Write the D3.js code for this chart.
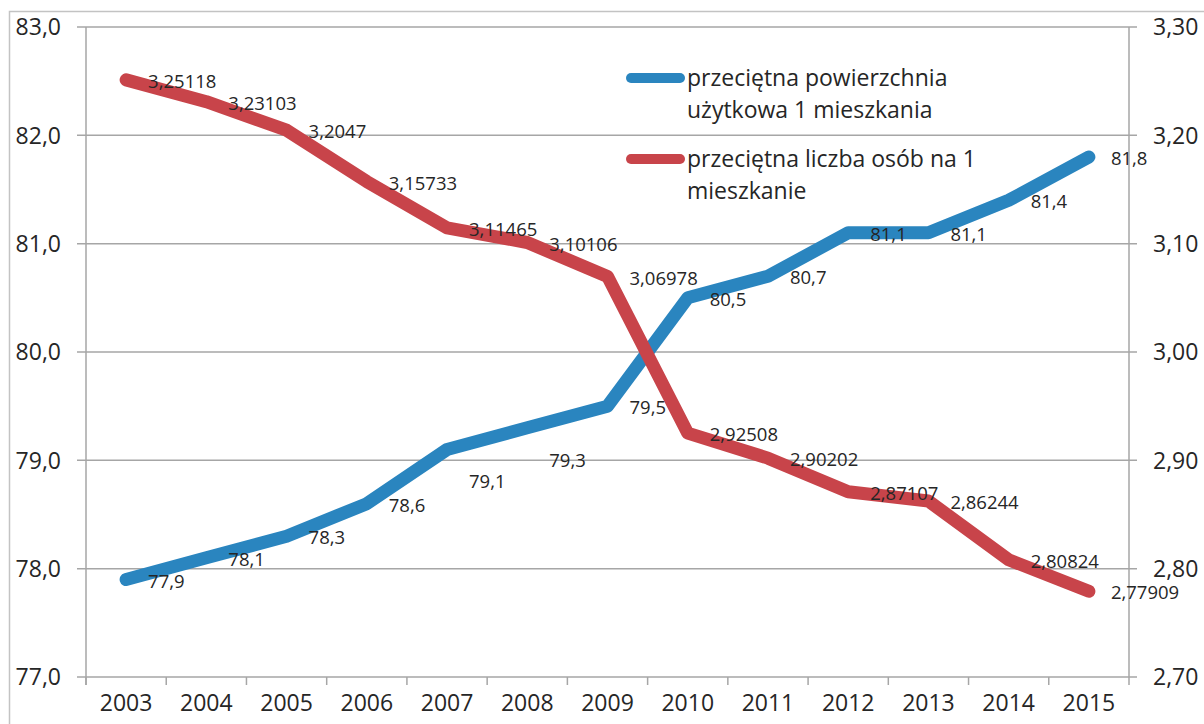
<!DOCTYPE html>
<html>
<head>
<meta charset="utf-8">
<script src="https://cdn.jsdelivr.net/npm/d3@7"></script>
<style>
  body { margin: 0; background: #fff; }
  text { font-family: "Open Sans", "Noto Sans", sans-serif; fill: #262626; }
</style>
</head>
<body>
<script>
// chart size
var w = 1204;
var h = 724;

// data
var years = ["2003", "2004", "2005", "2006", "2007", "2008", "2009",
             "2010", "2011", "2012", "2013", "2014", "2015"];
var area = [77.9, 78.1, 78.3, 78.6, 79.1, 79.3, 79.5, 80.5, 80.7, 81.1, 81.1, 81.4, 81.8];
var persons = [3.25118, 3.23103, 3.2047, 3.15733, 3.11465, 3.10106, 3.06978,
               2.92508, 2.90202, 2.87107, 2.86244, 2.80824, 2.77909];
var leftTicks = [77, 78, 79, 80, 81, 82, 83];
var rightTicks = [2.7, 2.8, 2.9, 3.0, 3.1, 3.2, 3.3];
var seriesNames = [
  ["przeciętna powierzchnia", "użytkowa 1 mieszkania"],
  ["przeciętna liczba osób na 1", "mieszkanie"]
];

var blue = "#2a85bf";
var red = "#c8444a";
var grid = "#a6a6a6";

// plot area (note: "top" is taken by window.top, so use other names)
var plotLeft = 86, plotRight = 1129, plotTop = 27, plotBottom = 677;

var svg = d3.select("body")
  .append("svg")
  .attr("width", w)
  .attr("height", h);

// outer chart border
svg.append("path")
  .attr("d", "M9.5," + h + "V11.5H" + w)
  .attr("fill", "none")
  .attr("stroke", "#c3c3c3")
  .attr("stroke-width", 1.5);

var x = d3.scaleBand().domain(years).range([plotLeft, plotRight]);
var yL = d3.scaleLinear().domain([77, 83]).range([plotBottom, plotTop]);
var yR = d3.scaleLinear().domain([2.7, 3.3]).range([plotBottom, plotTop]);

var comma = function(s) { return String(s).replace(".", ","); };

// gridlines (also act as outward ticks on both value axes)
svg.append("g")
  .selectAll("line")
  .data(leftTicks)
  .enter()
  .append("line")
  .attr("x1", plotLeft - 9)
  .attr("x2", plotRight + 8)
  .attr("y1", function(d) { return yL(d); })
  .attr("y2", function(d) { return yL(d); })
  .attr("stroke", grid)
  .attr("stroke-width", 1.5);

// vertical axis lines
[plotLeft, plotRight].forEach(function(px) {
  svg.append("line")
    .attr("x1", px).attr("x2", px)
    .attr("y1", plotTop).attr("y2", plotBottom + 8)
    .attr("stroke", grid)
    .attr("stroke-width", 1.5);
});

// category axis: ticks between the bands, labels centred
var xAxis = d3.axisBottom(x).tickSize(0).tickPadding(0);
var gx = svg.append("g")
  .attr("transform", "translate(0," + plotBottom + ")")
  .call(xAxis);
gx.select(".domain").remove();
gx.selectAll("text")
  .attr("y", 34)
  .attr("dy", "0")
  .style("font-size", "23px")
  .style("font-family", "'Open Sans', 'Noto Sans', sans-serif")
  .attr("fill", "#262626");

svg.append("g")
  .selectAll("line")
  .data(years)
  .enter()
  .append("line")
  .attr("x1", function(d) { return x(d); })
  .attr("x2", function(d) { return x(d); })
  .attr("y1", plotBottom)
  .attr("y2", plotBottom + 8)
  .attr("stroke", grid)
  .attr("stroke-width", 1.5);

// left value labels
svg.append("g")
  .selectAll("text")
  .data(leftTicks)
  .enter()
  .append("text")
  .attr("x", 61)
  .attr("y", function(d) { return yL(d); })
  .attr("dy", "0.36em")
  .attr("text-anchor", "end")
  .style("font-size", "23px")
  .text(function(d) { return d3.format(".1f")(d).replace(".", ","); });

// right value labels
svg.append("g")
  .selectAll("text")
  .data(rightTicks)
  .enter()
  .append("text")
  .attr("x", 1153)
  .attr("y", function(d) { return yR(d); })
  .attr("dy", "0.36em")
  .style("font-size", "23px")
  .text(function(d) { return d3.format(".2f")(d).replace(".", ","); });

var cx = function(d, i) { return x(years[i]) + x.bandwidth() / 2; };

var lineL = d3.line().x(cx).y(function(d) { return yL(d); });
var lineR = d3.line().x(cx).y(function(d) { return yR(d); });

svg.append("path")
  .datum(area)
  .attr("d", lineL)
  .attr("fill", "none")
  .attr("stroke", blue)
  .attr("stroke-width", 13)
  .attr("stroke-linecap", "round")
  .attr("stroke-linejoin", "round");

svg.append("path")
  .datum(persons)
  .attr("d", lineR)
  .attr("fill", "none")
  .attr("stroke", red)
  .attr("stroke-width", 13)
  .attr("stroke-linecap", "round")
  .attr("stroke-linejoin", "round");

// data labels, right of the point; two blue ones were pushed below the line
var labelDrop = [0, 0, 0, 0, 30, 31, 0, 0, 0, 0, 0, 0, 0];

svg.append("g")
  .selectAll("text")
  .data(area)
  .enter()
  .append("text")
  .attr("x", function(d, i) { return cx(d, i) + 22; })
  .attr("y", function(d, i) { return yL(d) + 1.5 + labelDrop[i]; })
  .attr("dy", "0.36em")
  .style("font-size", "18.5px")
  .text(comma);

svg.append("g")
  .selectAll("text")
  .data(persons)
  .enter()
  .append("text")
  .attr("x", function(d, i) { return cx(d, i) + 22; })
  .attr("y", function(d) { return yR(d) + 1.5; })
  .attr("dy", "0.36em")
  .style("font-size", "18.5px")
  .text(comma);

// legend
var legend = svg.append("g");
var legendY = [78, 159];
[blue, red].forEach(function(c, i) {
  legend.append("line")
    .attr("x1", 631).attr("x2", 680)
    .attr("y1", legendY[i]).attr("y2", legendY[i])
    .attr("stroke", c)
    .attr("stroke-width", 10)
    .attr("stroke-linecap", "round");
  var t = legend.append("text")
    .attr("x", 687)
    .attr("y", legendY[i])
    .style("font-size", "23px");
  seriesNames[i].forEach(function(s, j) {
    t.append("tspan")
      .attr("x", 687)
      .attr("dy", j == 0 ? "0.36em" : "32px")
      .text(s);
  });
});
</script>
</body>
</html>
